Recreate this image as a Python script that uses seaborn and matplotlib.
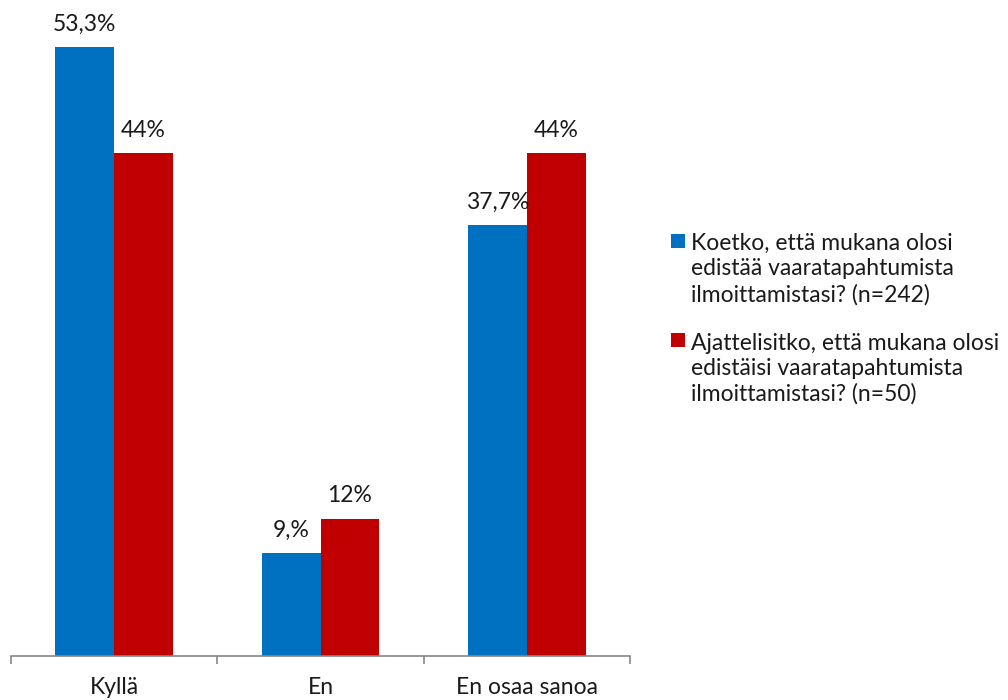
import matplotlib
matplotlib.use("Agg")
import matplotlib.pyplot as plt
from matplotlib.legend_handler import HandlerPatch
from matplotlib.patches import Rectangle, Patch
import seaborn as sns
import pandas as pd

categories = ["Kyllä", "En", "En osaa sanoa"]
series_names = [
    "Koetko, että mukana olosi\nedistää vaaratapahtumista\nilmoittamistasi? (n=242)",
    "Ajattelisitko, että mukana olosi\nedistäisi vaaratapahtumista\nilmoittamistasi? (n=50)",
]
series1_values = [53.3, 9.0, 37.7]
series2_values = [44.0, 12.0, 44.0]
series1_labels = ["53,3%", "9,%", "37,7%"]
series2_labels = ["44%", "12%", "44%"]
colors = ["#0070C0", "#C00000"]

sns.set_theme(style="white")
plt.rcParams["font.family"] = ["Lato", "DejaVu Sans"]

FS = 16.5
TXT = "#1a1a1a"

df = pd.DataFrame({
    "cat": categories * 2,
    "val": series1_values + series2_values,
    "series": [series_names[0]] * 3 + [series_names[1]] * 3,
})

fig = plt.figure(figsize=(10.08, 7.0), dpi=100)
ax = fig.add_axes([11 / 1008, 44 / 700, (630 - 11) / 1008, 656 / 700])

sns.barplot(data=df, x="cat", y="val", hue="series", order=categories,
            hue_order=series_names, palette=colors, width=0.57,
            saturation=1, ax=ax, legend=False, linewidth=0, edgecolor="none",
            err_kws={"linewidth": 0})

for cont, labs in zip(ax.containers, [series1_labels, series2_labels]):
    ax.bar_label(cont, labels=labs, padding=9, fontsize=FS, color=TXT)

ax.set_xlim(-0.5, 2.5)
ax.set_ylim(0, 57.4)
ax.set_xlabel("")
ax.set_ylabel("")
ax.set_yticks([])
for s in ["left", "top", "right"]:
    ax.spines[s].set_visible(False)
ax.spines["bottom"].set_color("#868686")
ax.spines["bottom"].set_linewidth(1.2)
ax.set_xticks([0, 1, 2])
ax.set_xticklabels(categories, fontsize=FS, color=TXT)
ax.tick_params(axis="x", which="major", length=0, pad=15)
ax.set_xticks([-0.5, 0.5, 1.5, 2.5], minor=True)
ax.tick_params(axis="x", which="minor", length=6, width=1.2, color="#868686",
               direction="out", bottom=True)


class TopSquare(HandlerPatch):
    def __init__(self, shift, size, **kw):
        super().__init__(**kw)
        self.shift = shift
        self.size = size

    def create_artists(self, legend, orig_handle, xdescent, ydescent, width,
                       height, fontsize, trans):
        p = Rectangle((-xdescent, -ydescent + self.shift), self.size, self.size,
                      facecolor=orig_handle.get_facecolor(), edgecolor="none",
                      transform=trans)
        return [p]


handles = [Patch(facecolor=c) for c in colors]
leg = fig.legend(handles, series_names, loc="upper left",
                 bbox_to_anchor=(0.654, 0.6836), frameon=False, fontsize=FS,
                 handlelength=0.6, handleheight=0.6, handletextpad=0.3,
                 labelspacing=1.2, borderpad=0, labelcolor=TXT,
                 handler_map={Patch: TopSquare(shift=21, size=10)})
for t in leg.get_texts():
    t.set_linespacing(1.25)

fig.savefig("out.png", dpi=100)
